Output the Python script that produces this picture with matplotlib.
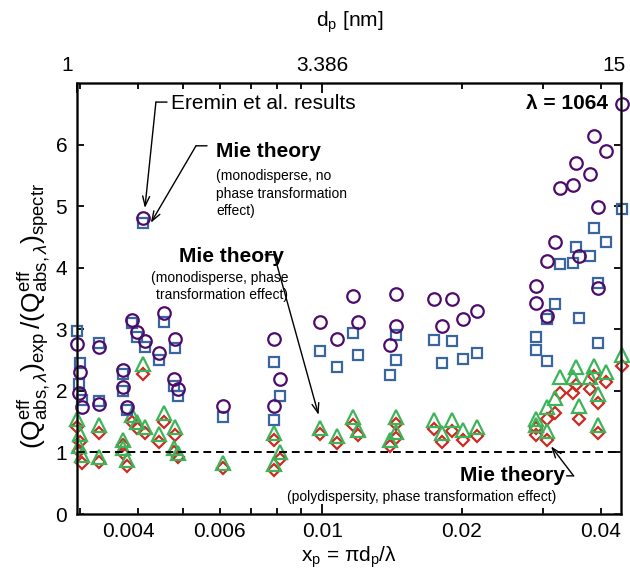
import numpy as np
import matplotlib
matplotlib.use("Agg")
import matplotlib.pyplot as plt
from matplotlib.transforms import ScaledTranslation

plt.rcParams['font.family'] = ['Liberation Sans', 'DejaVu Sans']
plt.rcParams['mathtext.fontset'] = 'custom'
plt.rcParams['mathtext.rm'] = 'Liberation Sans'
plt.rcParams['mathtext.it'] = 'Liberation Sans:italic'
plt.rcParams['mathtext.bf'] = 'Liberation Sans:bold'

# размерный параметр x_p = pi*d_p/lambda
xp = [0.00296, 0.00300, 0.00298, 0.00302, 0.00330, 0.00330, 0.00372, 0.00372,
      0.00378, 0.00388, 0.00397, 0.00415, 0.00410, 0.00443, 0.00455, 0.00481,
      0.00479, 0.00487, 0.00611, 0.00788, 0.00811, 0.00788, 0.00990, 0.01074,
      0.01163, 0.01196, 0.01444, 0.01444, 0.01403, 0.01741, 0.01814, 0.01909,
      0.02012, 0.02158, 0.02895, 0.02895, 0.03053, 0.03053, 0.03178, 0.03270,
      0.03483, 0.03539, 0.03589, 0.03785, 0.03867, 0.03945, 0.03945, 0.04093,
      0.04432]

# Eremin et al. results
eremin = [2.76, 2.31, 1.96, 1.73, 2.72, 1.79, 2.34, 2.06, 1.73, 3.15, 2.95, 2.81,
          4.81, 2.61, 3.26, 2.84, 2.20, 2.03, 1.75, 2.85, 2.20, 1.75, 3.12, 2.85,
          3.54, 3.12, 3.57, 3.06, 2.74, 3.50, 3.06, 3.50, 3.16, 3.30, 3.70, 3.43,
          3.22, 4.11, 4.42, 5.29, 5.34, 5.70, 4.19, 5.52, 6.14, 4.98, 3.67, 5.90,
          6.66]
# Mie, monodisperse, no phase transformation
mie_mono = [2.98, 2.46, 2.11, 1.85, 2.78, 1.84, 2.28, 2.00, 1.69, 3.10, 2.88, 2.72,
            4.73, 2.50, 3.12, 2.69, 2.08, 1.91, 1.58, 2.47, 1.91, 1.53, 2.65, 2.39,
            2.94, 2.59, 2.91, 2.50, 2.26, 2.83, 2.45, 2.81, 2.52, 2.61, 2.88, 2.66,
            2.48, 3.16, 3.41, 4.06, 4.08, 4.34, 3.18, 4.19, 4.64, 3.76, 2.77, 4.42,
            4.95]
# Mie, monodisperse, phase transformation
mie_phase = [1.55, 1.30, 1.11, 0.96, 1.45, 0.93, 1.20, 1.07, 0.88, 1.61, 1.50, 1.42,
             2.43, 1.30, 1.64, 1.42, 1.08, 0.99, 0.83, 1.32, 1.01, 0.82, 1.40, 1.27,
             1.58, 1.36, 1.57, 1.34, 1.20, 1.52, 1.32, 1.52, 1.36, 1.42, 1.55, 1.45,
             1.35, 1.74, 1.88, 2.22, 2.23, 2.39, 1.75, 2.22, 2.40, 1.95, 1.45, 2.30,
             2.58]
# Mie, polydispersity, phase transformation
mie_poly = [1.42, 1.17, 1.02, 0.83, 1.31, 0.85, 1.12, 0.99, 0.78, 1.50, 1.39, 1.31,
            2.27, 1.17, 1.50, 1.28, 1.00, 0.93, 0.74, 1.20, 0.90, 0.71, 1.30, 1.16,
            1.45, 1.28, 1.47, 1.23, 1.10, 1.38, 1.17, 1.35, 1.21, 1.26, 1.40, 1.28,
            1.20, 1.54, 1.64, 1.96, 1.97, 2.10, 1.54, 2.03, 2.24, 1.81, 1.32, 2.15,
            2.40]

lam = 1064
x_lo, x_hi = np.pi * 1 / lam, np.pi * 15 / lam

fig = plt.figure(figsize=(6.3, 5.76), dpi=100)
ax = fig.add_axes([0.1222, 0.1076, 0.8643, 0.7483])

mk = dict(linestyle='none', markerfacecolor='none', markeredgewidth=1.6, clip_on=False)
ax.plot(xp, mie_poly, marker='D', markersize=6.5, markeredgecolor='#cc2a22', **mk)
ax.plot(xp, mie_phase, marker='^', markersize=10, markeredgecolor='#3cb459', **mk)
ax.plot(xp, mie_mono, marker='s', markersize=7.5, markeredgecolor='#3a66a0', **mk)
ax.plot(xp, eremin, marker='o', markersize=9, markeredgecolor='#4e0b6e', **mk)

ax.axhline(1, color='black', linestyle=(0, (4, 2.5)), linewidth=1.4)

ax.set_xscale('log')
ax.set_xlim(x_lo, x_hi)
ax.set_ylim(0, 7)
ax.set_yticks(range(7))

ax.set_xticks([0.01], labels=['0.01'])
minor = [0.003, 0.004, 0.005, 0.006, 0.007, 0.008, 0.009, 0.02, 0.03, 0.04]
minor_lab = ['', '0.004', '', '0.006', '', '', '', '0.02', '', '0.04']
ax.set_xticks(minor, labels=minor_lab, minor=True)

for s in ax.spines.values():
    s.set_linewidth(1.8)
    s.set_color('#222222')
ax.tick_params(axis='both', which='both', direction='in', labelsize=15, width=1.3)
ax.tick_params(axis='x', which='major', length=7, pad=6)
ax.tick_params(axis='x', which='minor', length=4, pad=6)
ax.tick_params(axis='y', length=5, right=True, pad=7)

top = ax.twiny()
top.set_xscale('log')
top.set_xlim(x_lo, x_hi)
top.set_xticks([x_lo, 0.01, x_hi], labels=['1', '3.386', '15'])
top.set_xticks(minor, labels=[''] * len(minor), minor=True)
top.tick_params(axis='x', which='both', direction='in', labelsize=15, width=1.3)
top.tick_params(axis='x', which='major', length=7, pad=6)
top.tick_params(axis='x', which='minor', length=4)
top.set_xlabel(r'd$_\mathrm{p}$ [nm]', fontsize=15, labelpad=21)

# сдвиг крайних подписей, как в оригинале
fig.canvas.draw()
tl = top.get_xticklabels()
tl[0].set_transform(tl[0].get_transform() + ScaledTranslation(-10 / 100, 0, fig.dpi_scale_trans))
tl[2].set_transform(tl[2].get_transform() + ScaledTranslation(-7 / 100, 0, fig.dpi_scale_trans))
ml = ax.get_xticklabels(minor=True)
ml[1].set_transform(ml[1].get_transform() + ScaledTranslation(-10 / 100, 0, fig.dpi_scale_trans))

ax.set_xlabel(r'x$_\mathrm{p}$ = πd$_\mathrm{p}$/λ', fontsize=15, labelpad=2)
ax.set_ylabel(r'$(\mathrm{Q}^{\mathrm{eff}}_{\mathrm{abs},\lambda})_{\mathrm{exp}}\,'
              r'/(\mathrm{Q}^{\mathrm{eff}}_{\mathrm{abs},\lambda})_{\mathrm{spectr}}$',
              fontsize=19)
ax.yaxis.set_label_coords(-0.045, 0.46)

# подписи и стрелки
arr = dict(arrowstyle='->,head_length=0.7,head_width=0.25', color='black', lw=1.0,
           shrinkA=0, shrinkB=0)
seg = dict(arrowstyle='-', color='black', lw=1.0, shrinkA=0, shrinkB=0)

ax.text(0.00471, 6.66, 'Eremin et al. results', fontsize=15, va='center')
ax.annotate('', xy=(0.004372, 6.69), xytext=(0.00462, 6.69), arrowprops=seg)
ax.annotate('', xy=(0.004139, 4.97), xytext=(0.004372, 6.69), arrowprops=arr)

ax.text(0.005897, 5.88, 'Mie theory', fontsize=15, fontweight='bold', va='center')
ax.text(0.005897, 5.6, '(monodisperse, no\nphase transformation\neffect)',
        fontsize=10, va='top', linespacing=1.3)
ax.annotate('', xy=(0.005337, 5.98), xytext=(0.005638, 5.98), arrowprops=seg)
ax.annotate('', xy=(0.004264, 4.73), xytext=(0.005337, 5.98), arrowprops=arr)

ax.text(0.008274, 4.19, 'Mie theory', fontsize=15, fontweight='bold', va='center', ha='right')
ax.text(0.00844, 3.95, '(monodisperse, phase\ntransformation effect)',
        fontsize=10, va='top', ha='right', linespacing=1.3)
ax.annotate('', xy=(0.007873, 4.21), xytext=(0.007526, 4.21), arrowprops=seg)
ax.annotate('', xy=(0.009817, 1.61), xytext=(0.007873, 4.21), arrowprops=arr)

ax.text(0.03341, 0.62, 'Mie theory', fontsize=15, fontweight='bold', va='center', ha='right')
ax.text(0.03209, 0.28, '(polydispersity, phase transformation effect)',
        fontsize=10, va='center', ha='right')
ax.annotate('', xy=(0.0349, 0.62), xytext=(0.0337, 0.62), arrowprops=seg)
ax.annotate('', xy=(0.0312, 1.10), xytext=(0.0349, 0.62), arrowprops=arr)

ax.text(0.04139, 6.66, 'λ = 1064', fontsize=15, fontweight='bold', va='center', ha='right')

fig.savefig('out.png', dpi=100)
